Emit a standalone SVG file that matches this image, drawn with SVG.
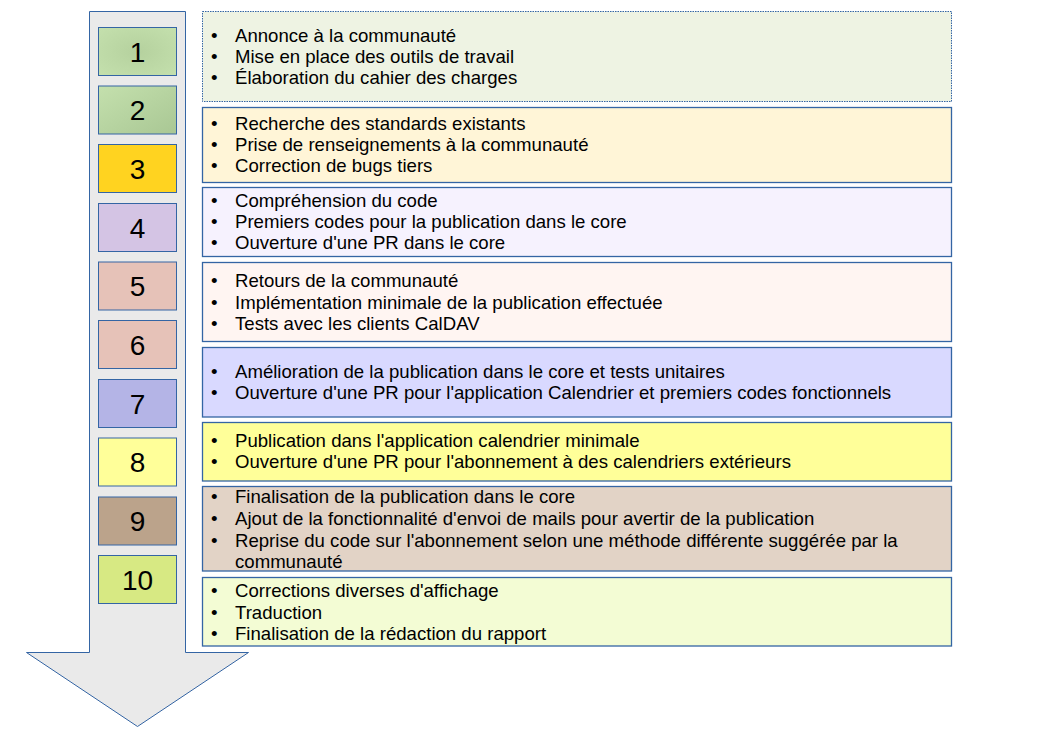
<svg xmlns="http://www.w3.org/2000/svg" width="1056" height="749" viewBox="0 0 1056 749">
<style>
.t{font-family:"Liberation Sans",Arial,sans-serif;font-size:18.6px;fill:#000}
.n{font-family:"Liberation Sans",Arial,sans-serif;font-size:28px;fill:#000;text-anchor:middle}
.nb{stroke:#3465a4;stroke-width:1}
.rb{stroke:#3465a4;stroke-width:1.3}
</style>
<defs>
<radialGradient id="g1" cx="0.5" cy="0.5" r="0.7">
<stop offset="0" stop-color="#b5d19e"/>
<stop offset="1" stop-color="#c4e0ad"/>
</radialGradient>
<linearGradient id="g2" x1="0" y1="0" x2="1" y2="1">
<stop offset="0" stop-color="#c4e0ad"/>
<stop offset="1" stop-color="#a9c794"/>
</linearGradient>
</defs>
<rect width="1056" height="749" fill="#fff"/>
<g id="arrow">
<path d="M89.5,11.5 H185.5 V652.5 H248.5 L137.5,726.5 L26.5,652.5 H89.5 Z" fill="#eaeaea" stroke="#3465a4" stroke-width="1"/>
</g>
<g id="steps">
<g id="step1"><rect class="nb" x="98.5" y="27.5" width="78" height="48" fill="url(#g1)"/><text class="n" x="137.5" y="61.5">1</text></g>
<g id="step2"><rect class="nb" x="98.5" y="86" width="78" height="48" fill="url(#g2)"/><text class="n" x="137.5" y="120">2</text></g>
<g id="step3"><rect class="nb" x="98.5" y="144.5" width="78" height="48" fill="#ffd320"/><text class="n" x="137.5" y="178.5">3</text></g>
<g id="step4"><rect class="nb" x="98.5" y="203.5" width="78" height="48" fill="#d4c4e4"/><text class="n" x="137.5" y="237.5">4</text></g>
<g id="step5"><rect class="nb" x="98.5" y="262" width="78" height="48" fill="#e6c2b8"/><text class="n" x="137.5" y="296">5</text></g>
<g id="step6"><rect class="nb" x="98.5" y="320.5" width="78" height="48" fill="#e6c2b8"/><text class="n" x="137.5" y="354.5">6</text></g>
<g id="step7"><rect class="nb" x="98.5" y="379.5" width="78" height="48" fill="#b4b4e6"/><text class="n" x="137.5" y="413.5">7</text></g>
<g id="step8"><rect class="nb" x="98.5" y="438" width="78" height="48" fill="#ffff99"/><text class="n" x="137.5" y="472">8</text></g>
<g id="step9"><rect class="nb" x="98.5" y="497" width="78" height="48" fill="#bba38b"/><text class="n" x="137.5" y="531">9</text></g>
<g id="step10"><rect class="nb" x="98.5" y="555.5" width="78" height="48" fill="#d7e983"/><text class="n" x="137.5" y="589.5">10</text></g>
</g>
<g id="tasks">
<g id="tasks1">
<rect x="202.5" y="11.5" width="749" height="90" fill="#eef3e3" stroke="#3465a4" stroke-width="1" stroke-dasharray="1.5 1"/>
<text class="t" x="211" y="41.5">•</text><text class="t" x="235" y="41.5">Annonce à la communauté</text>
<text class="t" x="211" y="63">•</text><text class="t" x="235" y="63">Mise en place des outils de travail</text>
<text class="t" x="211" y="84.3">•</text><text class="t" x="235" y="84.3">Élaboration du cahier des charges</text>
</g>
<g id="tasks2">
<rect class="rb" x="202.5" y="107.5" width="749" height="75" fill="#fff5d7"/>
<text class="t" x="211" y="130">•</text><text class="t" x="235" y="130">Recherche des standards existants</text>
<text class="t" x="211" y="151">•</text><text class="t" x="235" y="151">Prise de renseignements à la communauté</text>
<text class="t" x="211" y="172.3">•</text><text class="t" x="235" y="172.3">Correction de bugs tiers</text>
</g>
<g id="tasks3">
<rect class="rb" x="202.5" y="187.5" width="749" height="69" fill="#f6f2fe"/>
<text class="t" x="211" y="206.5">•</text><text class="t" x="235" y="206.5">Compréhension du code</text>
<text class="t" x="211" y="227.8">•</text><text class="t" x="235" y="227.8">Premiers codes pour la publication dans le core</text>
<text class="t" x="211" y="249.2">•</text><text class="t" x="235" y="249.2">Ouverture d'une PR dans le core</text>
</g>
<g id="tasks4">
<rect class="rb" x="202.5" y="262.5" width="749" height="79" fill="#fff5f2"/>
<text class="t" x="211" y="287.3">•</text><text class="t" x="235" y="287.3">Retours de la communauté</text>
<text class="t" x="211" y="308.5">•</text><text class="t" x="235" y="308.5">Implémentation minimale de la publication effectuée</text>
<text class="t" x="211" y="329.8">•</text><text class="t" x="235" y="329.8">Tests avec les clients CalDAV</text>
</g>
<g id="tasks5">
<rect class="rb" x="202.5" y="347.5" width="749" height="69.5" fill="#d9d9ff"/>
<text class="t" x="211" y="377.7">•</text><text class="t" x="235" y="377.7">Amélioration de la publication dans le core et tests unitaires</text>
<text class="t" x="211" y="399">•</text><text class="t" x="235" y="399">Ouverture d'une PR pour l'application Calendrier et premiers codes fonctionnels</text>
</g>
<g id="tasks6">
<rect class="rb" x="202.5" y="422.5" width="749" height="58.5" fill="#ffff99"/>
<text class="t" x="211" y="447">•</text><text class="t" x="235" y="447">Publication dans l'application calendrier minimale</text>
<text class="t" x="211" y="468.4">•</text><text class="t" x="235" y="468.4">Ouverture d'une PR pour l'abonnement à des calendriers extérieurs</text>
</g>
<g id="tasks7">
<rect class="rb" x="202.5" y="486.5" width="749" height="84.5" fill="#e2d3c6"/>
<text class="t" x="211" y="503.3">•</text><text class="t" x="235" y="503.3">Finalisation de la publication dans le core</text>
<text class="t" x="211" y="524.8">•</text><text class="t" x="235" y="524.8">Ajout de la fonctionnalité d'envoi de mails pour avertir de la publication</text>
<text class="t" x="211" y="546.5">•</text><text class="t" x="235" y="546.5">Reprise du code sur l'abonnement selon une méthode différente suggérée par la</text>
<text class="t" x="235" y="568">communauté</text>
</g>
<g id="tasks8">
<rect class="rb" x="202.5" y="577.5" width="749" height="68.5" fill="#f3fcd4"/>
<text class="t" x="211" y="597.3">•</text><text class="t" x="235" y="597.3">Corrections diverses d'affichage</text>
<text class="t" x="211" y="618.5">•</text><text class="t" x="235" y="618.5">Traduction</text>
<text class="t" x="211" y="639.8">•</text><text class="t" x="235" y="639.8">Finalisation de la rédaction du rapport</text>
</g>
</g>
<g id="connectors"/>
</svg>
